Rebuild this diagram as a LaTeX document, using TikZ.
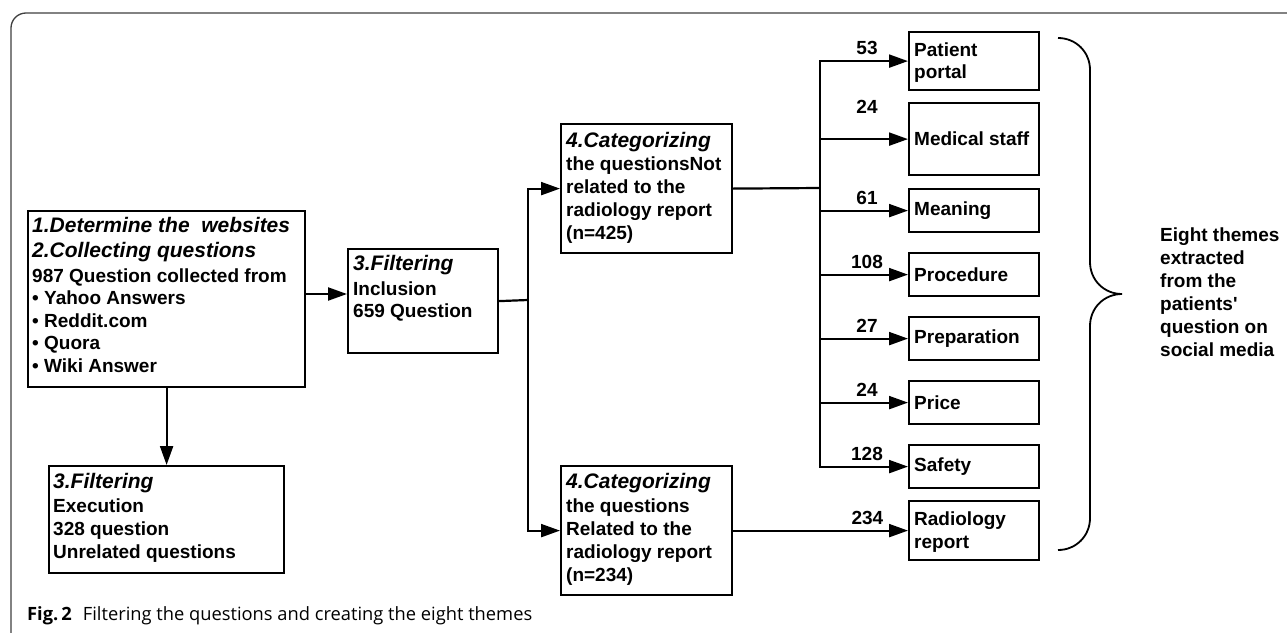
\documentclass[tikz,border=0pt]{standalone}
\usepackage{fontspec}
\setmainfont{Liberation Sans}
\newfontfamily\arialf{Liberation Sans}
\newfontfamily\capfont{Open Sans}
\usetikzlibrary{arrows.meta}
\newcommand\rgf{\arialf\fontsize{19}{23}\selectfont\bfseries}
\newcommand\itf[1]{{\fontsize{21}{25}\selectfont\bfseries\itshape #1}}
\begin{document}
\begin{tikzpicture}[x=1pt,y=-1pt,
  box/.style={draw, line width=2.2pt, inner sep=0pt, anchor=north west},
  txt/.style={inner sep=0pt, anchor=north west, align=left, font=\rgf},
  ttx/.style={inner sep=0pt, anchor=west, align=left, font=\rgf},
  ln/.style={line width=2.2pt},
  arr/.style={line width=2.2pt, -{Triangle[length=19pt,width=13pt]}},
  num/.style={inner sep=0pt, font=\rgf, above=5pt}]
\useasboundingbox (0,0) rectangle (1287,632);
\fill[white] (0,0) rectangle (1287,632);
% frame
\draw[black!75, line width=1.3pt, rounded corners=15pt] (11,640) -- (11,13) -- (1295,13);
% boxes
\node[box, minimum width=277pt, minimum height=176pt] (b1) at (27,210) {};
\node[box, minimum width=150pt, minimum height=104pt] (inc) at (347,248) {};
\node[box, minimum width=235pt, minimum height=107pt] (exe) at (48,465) {};
\node[box, minimum width=171pt, minimum height=129pt] (c4a) at (560,123) {};
\node[box, minimum width=171pt, minimum height=129pt] (c4b) at (560,465) {};
% box texts
\node[txt] (t1) at (32,217) {\itf{1.Determine the\ \ websites}\\[2pt]\itf{2.Collecting questions}\\[2pt]987 Question collected from\\[-0.5pt]• Yahoo Answers\\[-0.5pt]• Reddit.com\\[-0.5pt]• Quora\\[-0.5pt]• Wiki Answer};
\node[txt] (tinc) at (353,255) {\itf{3.Filtering}\\[2pt]Inclusion\\[-1pt]659 Question};
\node[txt] (texe) at (53,473) {\itf{3.Filtering}\\[1pt]Execution\\328 question\\Unrelated questions};
\node[txt] (t4a) at (566,132) {\itf{4.Categorizing}\\the questionsNot\\related to the\\radiology report\\(n=425)};
\node[txt] (t4b) at (566,473) {\itf{4.Categorizing}\\[1pt]the questions\\Related to the\\radiology report\\(n=234)};
% theme boxes
\node[box, minimum width=130pt, minimum height=58pt] (pp) at (908,31) {};
\node[box, minimum width=130pt, minimum height=72pt] (ms) at (908,102) {};
\node[box, minimum width=130pt, minimum height=43pt] (me) at (908,188) {};
\node[box, minimum width=130pt, minimum height=43pt] (pr) at (908,252) {};
\node[box, minimum width=130pt, minimum height=43pt] (pe) at (908,316) {};
\node[box, minimum width=130pt, minimum height=43pt] (pi) at (908,380) {};
\node[box, minimum width=130pt, minimum height=43pt] (sa) at (908,444) {};
\node[box, minimum width=130pt, minimum height=59pt] (rr) at (908,500) {};
\node[ttx] (tpp) at ([xshift=6pt,yshift=-1.5pt]pp.west) {Patient\\[-0.5pt]portal};
\node[ttx] (tms) at ([xshift=6pt]ms.west) {Medical staff};
\node[ttx] (tme) at ([xshift=6pt]me.west) {Meaning};
\node[ttx] (tpr) at ([xshift=6pt]pr.west) {Procedure};
\node[ttx] (tpe) at ([xshift=6pt]pe.west) {Preparation};
\node[ttx] (tpi) at ([xshift=6pt]pi.west) {Price};
\node[ttx] (tsa) at ([xshift=6pt]sa.west) {Safety};
\node[ttx] (trr) at ([xshift=6pt,yshift=-1.5pt]rr.west) {Radiology\\[-0.5pt]report};
% connectors
\draw[arr] (b1.east |- 0,294) -- (inc.west |- 0,294);
\draw[arr] (b1.south) -- (exe.north);
\coordinate (j1) at (528,300);
\draw[ln] (inc.east) -- (j1);
\draw[arr] (j1) |- (c4a.west);
\draw[arr] (j1) |- (c4b.west);
\coordinate (j2) at (820,188);
\draw[ln] (c4a.east) -- (j2);
\draw[arr] (j2) |- node[num, pos=0.767] {53} (pp.west);
\draw[arr] (j2) |- node[num, pos=0.767, above=20pt] {24} (ms.west);
\draw[arr] (j2) |- node[num, pos=0.767] {61} (me.west);
\draw[arr] (j2) |- node[num, pos=0.767] {108} (pr.west);
\draw[arr] (j2) |- node[num, pos=0.767] {27} (pe.west);
\draw[arr] (j2) |- node[num, pos=0.767] {24} (pi.west);
\draw[arr] (j2) |- node[num, pos=0.767] {128} (sa.west);
\draw[arr] (c4b.east) -- node[num, pos=0.768] {234} (c4b.east -| rr.west);
% brace
\draw[line width=1.8pt] (1058,38) .. controls (1076,38) and (1090,52) .. (1090,70) -- (1090,262) .. controls (1090,280) and (1104,294) .. (1122,294) .. controls (1104,294) and (1090,308) .. (1090,326) -- (1090,518) .. controls (1090,536) and (1076,550) .. (1058,550);
\node[txt] (bt) at (1160,228) {Eight themes\\extracted\\from the\\patients'\\question on\\social media};
% caption
\node[inner sep=0pt, anchor=base west, font=\capfont\fontsize{18.3}{22}\selectfont] (cap) at (27,620) {{\bfseries Fig.\,2}\hspace{11pt}Filtering the questions and creating the eight themes};
\end{tikzpicture}
\end{document}
